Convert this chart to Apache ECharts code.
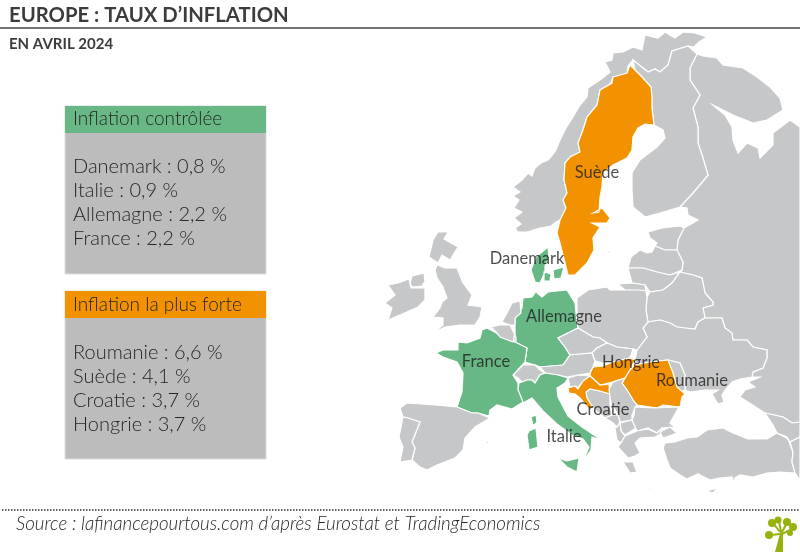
<!DOCTYPE html>
<html>
<head>
<meta charset="utf-8">
<title>Europe : taux d'inflation</title>
<style>
html,body{margin:0;padding:0;background:#fff;}
#chart{width:800px;height:552px;}
</style>
<script src="https://cdn.jsdelivr.net/npm/echarts@6/dist/echarts.min.js"></script>
</head>
<body>
<div id="chart"></div>
<script>
//valeurs du tableau
var controlledNames = ['Danemark', 'Italie', 'Allemagne', 'France'];
var controlledValues = [0.8, 0.9, 2.2, 2.2];
var highestNames = ['Roumanie', 'Suède', 'Croatie', 'Hongrie'];
var highestValues = [6.6, 4.1, 3.7, 3.7];

//position des noms sur la carte
var labelAnchors = {
    'Suède': [597, 173], 'Danemark': [527, 259], 'Allemagne': [564, 317], 'France': [486, 362],
    'Hongrie': [631, 363], 'Roumanie': [692, 381], 'Croatie': [603, 410], 'Italie': [564, 437]
};

var GREEN = '#67b884', ORANGE = '#f39200', LAND = '#c6c7c9', FONT = 'Lato';

//contours relevés à la main sur la carte, en pixels
var countries = {
    'Russie': [[[697,54],[703,56],[717,58],[723,65],[743,68],[757,77],[770,87],[780,98],[783,110],[767,120],[753,123],[733,115],[713,105],[725,115],[732,127],[733,140],[738,153],[747,143],[758,148],[760,158],[773,145],[773,133],[790,120],[800,127],[800,422],[792,423],[783,417],[765,413],[740,397],[745,390],[755,387],[748,382],[760,377],[752,377],[753,372],[763,368],[767,358],[767,350],[753,347],[747,340],[733,340],[732,333],[725,328],[722,318],[705,318],[703,308],[713,305],[713,302],[705,293],[702,278],[693,275],[680,272],[682,270],[683,262],[677,250],[678,240],[684,228],[698,220],[688,215],[687,208],[680,207],[693,193],[708,175],[703,158],[698,143],[698,127],[693,108],[700,95],[690,80],[690,68]]],
    'Norvège': [[[633,60],[628,66],[627,75],[613,77],[610,85],[600,90],[597,105],[587,117],[583,130],[578,143],[580,152],[570,157],[565,163],[564,180],[567,193],[563,200],[566,208],[560,220],[556,222],[551,226],[540,228],[527,232],[518,232],[515,228],[521,224],[514,218],[522,212],[514,208],[519,200],[513,196],[520,192],[513,187],[522,180],[528,173],[532,176],[535,168],[541,163],[548,160],[550,158],[556,150],[560,140],[566,128],[573,117],[580,105],[587,97],[588,88],[600,80],[610,72],[605,62],[612,60],[613,53],[623,52],[633,47],[642,50],[645,35],[658,38],[665,32],[675,38],[683,32],[695,33],[707,37],[699,42],[694,47],[688,46],[672,51],[668,65],[660,72],[655,69],[648,72]]],
    'Finlande': [[[672,51],[688,46],[697,54],[690,68],[690,80],[700,95],[693,108],[698,127],[698,143],[703,158],[708,175],[693,193],[680,207],[660,213],[645,217],[633,207],[632,190],[632,173],[640,160],[657,147],[665,138],[663,130],[654,125],[652,108],[651,87],[642,77],[635,70],[633,60],[648,72],[655,69],[660,72],[668,65]]],
    'Suède': [[[630,65],[635,70],[642,77],[651,87],[652,97],[652,108],[654,125],[645,124],[638,128],[633,137],[632,150],[627,158],[613,165],[603,173],[602,187],[600,197],[599,212],[593,213],[602,208],[610,218],[607,223],[592,223],[600,227],[593,238],[594,250],[587,263],[575,275],[568,275],[565,263],[560,243],[557,233],[560,220],[566,208],[563,200],[567,193],[564,180],[565,163],[570,157],[580,152],[578,143],[583,130],[587,117],[597,105],[600,90],[612,83],[613,77],[627,73]]],
    'Gotland': [[[608,253],[611,247],[610,254]]],
    'Estonie': [[[648,232],[662,228],[680,226],[684,228],[678,240],[677,250],[665,250],[655,246],[657,243],[650,238]]],
    'Lettonie': [[[628,268],[631,257],[640,250],[647,253],[652,252],[655,246],[665,250],[677,250],[683,262],[682,270],[670,275],[657,272],[643,268]]],
    'Lituanie': [[[628,268],[643,268],[657,272],[670,275],[680,272],[672,283],[663,290],[650,292],[645,285],[632,283]]],
    'Kaliningrad': [[[618,284],[632,283],[645,285],[646,291],[625,290]]],
    'Biélorussie': [[[680,272],[693,275],[702,278],[705,293],[713,302],[713,305],[703,308],[705,318],[698,322],[695,329],[685,328],[677,327],[670,323],[660,320],[648,322],[646,310],[647,297],[650,292],[663,290],[672,283]]],
    'Ukraine': [[[648,322],[660,320],[670,323],[677,327],[685,328],[695,329],[698,322],[705,318],[722,318],[725,328],[732,333],[733,340],[747,340],[753,347],[767,350],[767,358],[763,368],[753,372],[752,377],[740,379],[732,382],[725,390],[722,395],[724,402],[718,404],[712,394],[718,390],[705,390],[690,392],[685,390],[685,375],[680,363],[668,360],[650,362],[635,365],[635,360],[637,350],[647,337],[643,328]]],
    'Moldavie': [[[668,360],[680,363],[685,375],[685,390],[678,393],[677,388],[673,377]]],
    'Pologne': [[[577,298],[588,290],[607,287],[610,290],[640,290],[646,291],[647,297],[646,310],[648,322],[643,328],[647,337],[637,350],[633,349],[617,347],[607,343],[600,338],[593,337],[578,328],[577,322]]],
    'Allemagne': [[[537,283],[537,293],[542,297],[548,292],[567,290],[575,303],[577,322],[578,328],[558,338],[565,347],[570,355],[563,365],[540,367],[535,365],[525,362],[527,348],[515,342],[515,318],[522,308],[523,298],[532,297],[537,290]]],
    'Tchéquie': [[[558,338],[578,328],[593,337],[600,338],[607,343],[597,348],[592,353],[573,355],[570,355],[565,347]]],
    'Slovaquie': [[[597,348],[607,343],[617,347],[633,349],[630,358],[613,362],[603,363],[595,361],[592,353]]],
    'Hongrie': [[[590,373],[593,367],[603,366],[613,362],[630,358],[635,360],[630,370],[625,378],[613,382],[600,385],[590,376]]],
    'Roumanie': [[[635,365],[650,362],[668,360],[673,373],[677,387],[685,394],[682,397],[680,407],[663,405],[657,408],[637,405],[633,400],[627,390],[622,383],[630,370]]],
    'Autriche': [[[540,367],[563,365],[570,355],[592,353],[595,361],[593,367],[590,373],[578,375],[567,377],[558,375],[545,373]]],
    'Suisse': [[[513,375],[523,365],[535,365],[540,370],[545,373],[540,375],[535,383],[532,380],[527,380],[522,382],[518,378]]],
    'Slovénie': [[[568,378],[578,375],[590,376],[584,381],[578,387],[570,387]]],
    'Bosnie': [[[590,389],[600,391],[610,394],[610,405],[612,415],[605,418],[594,409],[587,398],[586,392]]],
    'Croatie': [[[583,381],[590,376],[600,385],[609,384],[610,394],[600,391],[590,389],[586,392],[587,398],[594,409],[588,408],[580,398],[575,394],[569,393],[568,388],[575,386],[578,389]]],
    'Serbie': [[[609,389],[613,382],[625,378],[622,383],[627,390],[633,400],[637,405],[635,408],[632,415],[632,420],[620,422],[618,415],[611,403],[610,397]]],
    'Monténégro': [[[605,418],[612,415],[618,415],[620,422],[617,427],[613,423]]],
    'Macédoine': [[[620,423],[632,420],[636,428],[625,435],[621,431]]],
    'Albanie': [[[615,428],[617,427],[620,423],[621,431],[625,436],[621,443],[617,440]]],
    'Bulgarie': [[[635,407],[653,408],[679,407],[670,423],[675,427],[662,428],[657,433],[648,428],[637,431],[632,420],[634,415]]],
    'Grèce': [[[618,447],[621,443],[625,436],[637,431],[648,429],[657,433],[662,428],[662,433],[655,437],[640,438],[635,443],[640,453],[635,456],[628,458]],
        [[623,462],[633,462],[637,472],[630,473],[627,468]],
        [[640,486],[655,489],[648,489]]],
    'Turquie': [[[663,448],[665,443],[675,442],[687,438],[697,437],[707,430],[723,428],[733,433],[748,439],[767,439],[777,433],[788,439],[793,452],[792,462],[795,473],[780,472],[767,473],[753,477],[740,475],[735,478],[733,482],[732,477],[720,478],[710,480],[698,474],[687,479],[680,475],[670,468],[667,460]],
        [[660,432],[670,427],[677,433],[672,435],[663,438]]],
    'Chypre': [[[706,491],[718,488],[713,493]]],
    'Géorgie': [[[765,413],[783,417],[792,423],[800,422],[800,437],[790,442],[787,437],[777,433],[773,425]]],
    'Arménie': [[[790,442],[800,437],[800,480],[795,473],[792,462],[793,452]]],
    'Italie': [[[519,383],[522,382],[527,380],[532,380],[535,383],[540,375],[545,373],[558,375],[568,378],[565,383],[557,388],[558,397],[568,416],[582,427],[597,437],[602,440],[592,437],[591,450],[583,461],[589,447],[583,439],[572,435],[557,424],[543,411],[532,398],[523,403],[518,390]],
        [[558,458],[567,461],[579,458],[577,472],[567,467]],
        [[529,431],[536,428],[538,447],[529,450],[527,435]]],
    'France': [[[487,328],[500,335],[515,342],[527,348],[525,362],[513,375],[518,383],[518,390],[523,402],[512,409],[497,405],[490,410],[489,416],[478,413],[472,413],[457,407],[462,392],[463,373],[457,362],[443,357],[436,353],[443,350],[458,350],[458,342],[467,343],[480,338],[482,330]],
        [[531,417],[536,415],[537,422],[533,426]]],
    'Belgique': [[[491,327],[500,325],[510,325],[515,335],[513,342],[500,337],[496,332]]],
    'Luxembourg': [[[514,336],[516,337],[516,341],[514,341]]],
    'Pays-Bas': [[[502,322],[507,313],[512,303],[520,301],[521,313],[515,318],[515,325],[510,325]]],
    'Danemark': [[[548,247],[549,258],[545,266],[545,272],[540,283],[535,282],[531,270],[536,257]],
        [[553,270],[564,267],[561,278],[554,279]],
        [[544,272],[551,274],[550,281],[544,281]]],
    'Royaume-Uni': [[[433,240],[438,232],[448,232],[444,239],[458,247],[450,260],[442,255],[437,265],[445,268],[457,268],[463,283],[472,295],[468,305],[482,307],[480,317],[475,325],[460,325],[445,327],[433,333],[443,325],[443,318],[433,317],[440,308],[442,302],[447,298],[443,287],[437,278],[435,270],[438,263],[429,257]],
        [[410,283],[412,276],[424,273],[425,281],[422,286],[412,287]]],
    'Irlande': [[[425,288],[425,300],[418,307],[400,315],[388,320],[392,308],[385,303],[395,295],[388,285],[398,283],[409,279],[411,288],[422,288]]],
    'Espagne': [[[407,403],[435,405],[457,407],[472,413],[478,413],[490,418],[475,427],[465,438],[463,450],[455,458],[437,465],[427,470],[420,467],[412,460],[415,448],[412,442],[420,422],[408,418],[403,417],[400,408]],
        [[486,441],[490,442],[487,444]]],
    'Portugal': [[[403,417],[408,418],[420,422],[412,442],[415,448],[412,460],[400,462],[403,447],[399,437]]]
};

var features = [];
for (var name in countries) {
    features.push({
        type: 'Feature',
        properties: {name: name},
        geometry: {type: 'MultiPolygon', coordinates: countries[name].map(function (ring) { return [ring]; })}
    });
}
echarts.registerMap('europe', {type: 'FeatureCollection', features: features});

//remplit les lignes d'un encadré
function panelTexts(names, values, firstY) {
    return names.map(function (n, i) {
        return {
            type: 'text', x: 73, y: firstY + i * 24,
            style: {text: n + ' : ' + String(values[i]).replace('.', ',') + ' %', font: '300 20px ' + FONT, fill: '#262626', textVerticalAlign: 'middle'}
        };
    });
}

function panelBox(top, color) {
    return [
        {type: 'rect', shape: {x: 65, y: top, width: 201, height: 168}, style: {fill: '#bcbcbc', stroke: '#dcdcdc', lineWidth: 1}},
        {type: 'rect', shape: {x: 65, y: top, width: 201, height: 27}, style: {fill: color}}
    ];
}

function leaf(cx, cy, r) {
    return {type: 'circle', shape: {cx: cx, cy: cy, r: r}, style: {fill: '#95b20f'}};
}
function twig(x1, y1, x2, y2) {
    return {type: 'line', shape: {x1: x1, y1: y1, x2: x2, y2: y2}, style: {stroke: '#95b20f', lineWidth: 2}};
}

var graphics = [
    {type: 'text', x: 9, y: 15, style: {text: 'EUROPE : TAUX D’INFLATION', font: 'bold 20.3px ' + FONT, fill: '#3c3c3c', textVerticalAlign: 'middle'}},
    {type: 'line', shape: {x1: 0, y1: 28, x2: 800, y2: 28}, style: {stroke: '#444', lineWidth: 1.6}},
    {type: 'text', x: 9, y: 44, style: {text: 'EN AVRIL 2024', font: 'bold 15px ' + FONT, fill: '#3c3c3c', textVerticalAlign: 'middle'}},
    {type: 'line', shape: {x1: 2, y1: 510, x2: 800, y2: 510}, style: {stroke: '#333', lineWidth: 1.5, lineDash: [1.5, 1.5]}},
    {type: 'text', x: 16, y: 524, style: {text: 'Source : lafinancepourtous.com d’après Eurostat et TradingEconomics', font: 'italic 300 18.7px ' + FONT, fill: '#262626', textVerticalAlign: 'middle'}},
    {type: 'polygon', shape: {points: [[775, 552], [783, 552], [783, 533], [781, 530]]}, style: {fill: '#95b20f'}},
    twig(780, 534, 771, 535), twig(780, 532, 773, 523), twig(781, 532, 779, 521), twig(782, 532, 787, 523), twig(782, 534, 790, 530),
    leaf(769, 535, 4), leaf(772, 523, 4), leaf(778, 520, 3.5), leaf(787, 522, 4), leaf(793, 527, 4), leaf(790, 533, 3)
].concat(panelBox(106, GREEN), panelBox(291, ORANGE), [
    {type: 'text', x: 73, y: 119, style: {text: 'Inflation contrôlée', font: '300 19px ' + FONT, fill: '#262626', textVerticalAlign: 'middle'}},
    {type: 'text', x: 73, y: 305, style: {text: 'Inflation la plus forte', font: '300 19px ' + FONT, fill: '#262626', textVerticalAlign: 'middle'}}
], panelTexts(controlledNames, controlledValues, 167), panelTexts(highestNames, highestValues, 353));

//couleur de chaque pays selon son groupe
var regionStyles = controlledNames.map(function (n) {
    return {name: n, itemStyle: {areaColor: GREEN}};
}).concat(highestNames.map(function (n) {
    return {name: n, itemStyle: {areaColor: ORANGE}};
}));

var labelData = controlledNames.concat(highestNames).map(function (n) {
    return {name: n, value: labelAnchors[n]};
});

var chart = echarts.init(document.getElementById('chart'));
chart.setOption({
    animation: false,
    backgroundColor: '#fff',
    geo: {
        map: 'europe',
        projection: {project: function (p) { return p; }, unproject: function (p) { return p; }},
        boundingCoords: [[0, 0], [800, 552]],
        left: 0, top: 0, width: 800, height: 552,
        silent: true,
        roam: false,
        itemStyle: {areaColor: LAND, borderColor: '#fff', borderWidth: 1.2},
        label: {show: false},
        emphasis: {disabled: true},
        regions: regionStyles
    },
    series: [
        {
            type: 'scatter', coordinateSystem: 'geo', symbolSize: 0, silent: true, data: labelData,
            label: {show: true, position: 'inside', formatter: '{b}', color: '#1e1e1e', fontFamily: FONT, fontSize: 16.5}
        }
    ],
    graphic: graphics
});
</script>
</body>
</html>
